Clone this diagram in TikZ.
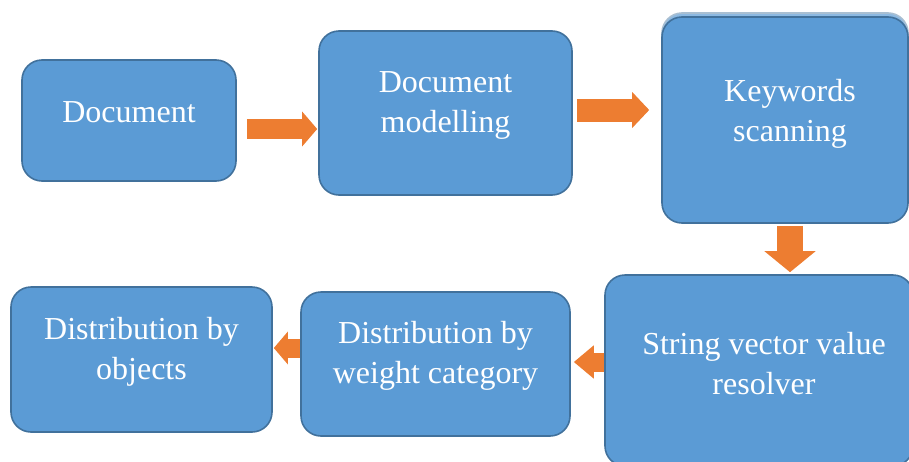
\documentclass[tikz,border=0pt]{standalone}
\usepackage{fontspec}
\setmainfont{Liberation Serif}
\usetikzlibrary{arrows.meta,shadows}
\definecolor{boxfill}{HTML}{5B9BD5}
\definecolor{boxline}{HTML}{41719C}
\definecolor{flowcol}{HTML}{ED7D31}
\begin{document}
\begin{tikzpicture}[x=1pt, y=-1pt,
    box/.style={draw=boxline, line width=1.6pt, fill=boxfill, rounded corners=20pt, inner sep=0pt},
    boxtext/.style={text=white, align=center, inner sep=0pt, font=\fontsize{32}{40}\selectfont, yshift=8pt},
    flow/.style={draw=flowcol, line width=20pt, -{Triangle[width=34pt, length=15pt]}}]
        \useasboundingbox (0,0) rectangle (909,461);
        \clip (0,0) rectangle (909,461);
        % top row
        \node[box, minimum width=214, minimum height=121, label={[boxtext]center:Document}] (doc) at (129,120.5) {};
        \node[box, minimum width=253, minimum height=164, label={[boxtext]center:{Document\\modelling}}] (model) at (445.5,113) {};
        \node[box, minimum width=246, minimum height=206,
              copy shadow={shadow xshift=0pt, shadow yshift=4pt, fill=boxfill!70!white, draw=boxline!45!white},
              label={[boxtext, yshift=-2pt, xshift=5pt]center:{Keywords\\scanning}}] (scan) at (785,120) {};
        % bottom row
        \node[box, minimum width=308, minimum height=191, label={[boxtext, yshift=-1pt, xshift=5pt]center:{String vector value\\resolver}}] (resolver) at (759,370.5) {};
        \node[box, minimum width=269, minimum height=144, label={[boxtext]center:{Distribution by\\weight category}}] (weight) at (435.5,364) {};
        \node[box, minimum width=261, minimum height=145, label={[boxtext]center:{Distribution by\\objects}}] (objects) at (141.5,359.5) {};
        % arrows
        \draw[flow] ([shift={(10,8.5)}]doc.east) -- ([shift={(-1,16)}]model.west);
        \draw[flow, line width=23pt, -{Triangle[width=35pt, length=17pt]}] ([shift={(4,-3)}]model.east) -- ([shift={(-12,-10)}]scan.west);
        \draw[flow, line width=26pt, -{Triangle[width=50pt, length=21pt]}] ([shift={(5,2)}]scan.south) -- ([shift={(31,-2)}]resolver.north);
        \draw[flow, line width=19pt, -{Triangle[width=32pt, length=20pt]}] ([shift={(0,-8.5)}]resolver.west) -- ([shift={(3,-2)}]weight.east);
        \draw[flow, line width=19pt, -{Triangle[width=32pt, length=14pt]}] ([shift={(0,-16)}]weight.west) -- ([shift={(1,-11.5)}]objects.east);
\end{tikzpicture}
\end{document}
